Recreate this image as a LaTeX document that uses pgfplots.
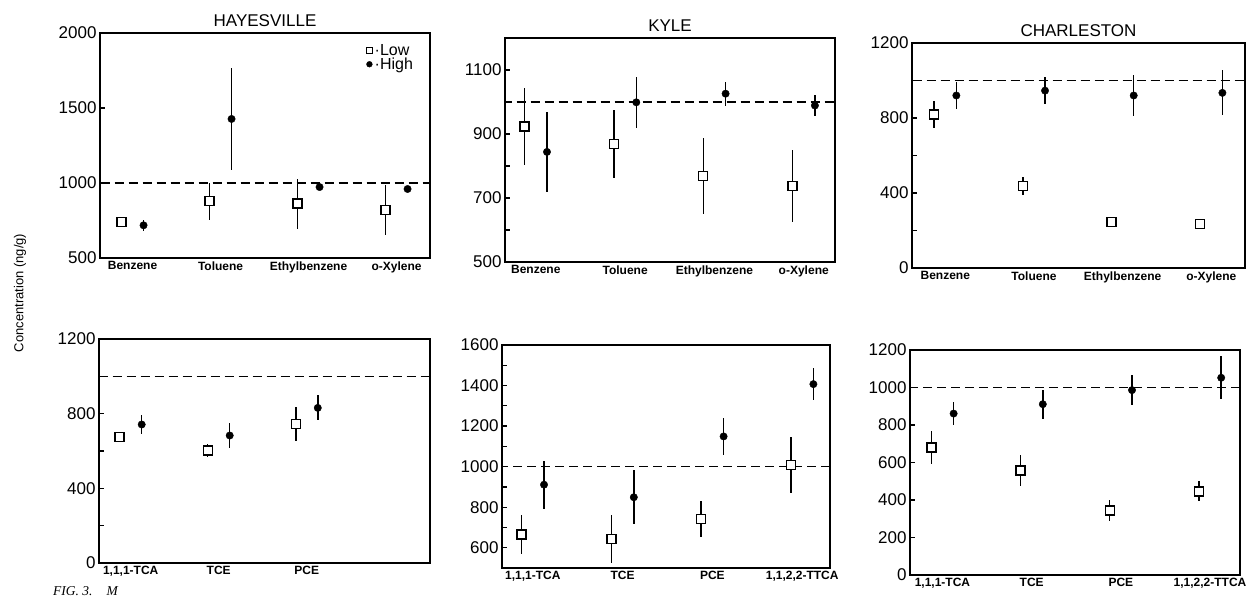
\documentclass[border=0pt]{standalone}
\usepackage{fontspec}
\setmainfont{Liberation Sans}
\newfontfamily\figfont{Liberation Serif}
\usepackage{pgfplots}
\pgfplotsset{compat=1.18}

\pgfplotsset{
  panel/.style={
    scale only axis, anchor=south west,
    axis line style={line width=1.4pt},
    tick align=inside, major tick length=5pt, minor tick length=5pt,
    every tick/.style={line width=1.2pt, black},
    ytick pos=left,
    xtick={0,1,2,3}, x tick style={draw=none},
    x tick label style={font=\fontsize{12}{12}\selectfont\bfseries},
    y tick label style={font=\fontsize{17}{17}\selectfont},
    /pgf/number format/assume math mode=true,
    /pgf/number format/1000 sep={},
    title style={font=\fontsize{17}{17}\selectfont, at={(0.5,1)}, anchor=base, yshift=0pt},
  },
  low/.style={error bars/.cd, y dir=both, y explicit, error mark=none,
    error bar style={line width=1.5pt, black}, /pgfplots/.cd,
    black, only marks, mark=square*, mark size=4.5pt,
    mark options={fill=white, draw=black, line width=1.4pt}},
  high/.style={error bars/.cd, y dir=both, y explicit, error mark=none,
    error bar style={line width=1.5pt, black}, /pgfplots/.cd,
    black, only marks, mark=*, mark size=3.7pt,
    mark options={fill=black, draw=black}},
  ref/.style={black, line width=1.4pt, dash pattern=on 9pt off 5pt, forget plot},
  lowleg/.style={legend image code/.code={\draw[black, mark=square*, mark size=3.3pt,
    mark options={fill=white, draw=black, line width=1.2pt}] plot coordinates {(0.2cm,0cm)};}},
  highleg/.style={legend image code/.code={\draw[black, mark=*, mark size=2.9pt,
    mark options={fill=black, draw=black}] plot coordinates {(0.2cm,0cm)};}},
}

\begin{document}
\begin{tikzpicture}
\useasboundingbox (0,0) rectangle (1249pt,597pt);

% Hayesville, aromatics
\begin{axis}[panel, at={(100pt,339pt)}, width=330pt, height=225pt,
  xmin=-0.37, xmax=3.38, ymin=500, ymax=2000, ytick={500,1000,1500,2000},
  xticklabels={Benzene,Toluene,Ethylbenzene,o-Xylene},
  title={HAYESVILLE},
  legend style={draw=none, fill=none, at={(0.955,0.96)}, anchor=north east,
    font=\fontsize{16}{16}\selectfont, row sep=-3pt, inner sep=0pt},
  legend cell align=left]
\addplot[low, lowleg]
  coordinates {(-0.125,738) +- (0,25) (0.875,878) +- (0,125) (1.875,862) +- (0,167) (2.875,818) +- (0,167)};
\addplot[high, highleg]
  coordinates {(0.125,718) +- (0,38) (1.125,1427) +- (0,340) (2.125,973) +- (0,10) (3.125,960) +- (0,10)};
\addplot[ref] coordinates {(-1,1000) (4,1000)};
\addlegendentry{·Low}
\addlegendentry{·High}
\end{axis}

% Kyle, aromatics
\begin{axis}[panel, at={(505pt,335pt)}, width=330pt, height=224pt,
  xmin=-0.345, xmax=3.35, ymin=500, ymax=1200, ytick={500,700,900,1100}, minor y tick num=1,
  xticklabels={Benzene,Toluene,Ethylbenzene,o-Xylene},
  title={KYLE}]
\addplot[ref] coordinates {(-1,1000) (4,1000)};
\addplot[low] coordinates {(-0.125,924) +- (0,120) (0.875,869) +- (0,105) (1.875,769) +- (0,119) (2.875,738) +- (0,113)};
\addplot[high] coordinates {(0.125,844) +- (0,125) (1.125,999) +- (0,80) (2.125,1026) +- (0,37) (3.125,989) +- (0,32)};
\end{axis}

% Charleston, aromatics
\begin{axis}[panel, at={(912pt,329pt)}, width=333pt, height=225pt,
  xmin=-0.375, xmax=3.38, ymin=0, ymax=1200, ytick={0,400,800,1200}, minor y tick num=1,
  xticklabels={Benzene,Toluene,Ethylbenzene,o-Xylene},
  title={CHARLESTON}]
\addplot[ref] coordinates {(-1,1000) (4,1000)};
\addplot[low] coordinates {(-0.125,818) +- (0,71) (0.875,437) +- (0,49) (1.875,246) +- (0,15) (2.875,234) +- (0,15)};
\addplot[high] coordinates {(0.125,920) +- (0,71) (1.125,946) +- (0,71) (2.125,920) +- (0,107) (3.125,934) +- (0,120)};
\end{axis}

% Hayesville, chlorinated
\begin{axis}[panel, at={(99pt,34pt)}, width=331pt, height=224pt,
  xmin=-0.36, xmax=3.40, ymin=0, ymax=1200, ytick={0,400,800,1200}, minor y tick num=1,
  xtick={0,1,2}, xticklabels={{1,1,1-TCA},TCE,PCE}]
\addplot[ref] coordinates {(-1,1000) (4,1000)};
\addplot[low] coordinates {(-0.125,674) +- (0,20) (0.875,602) +- (0,35) (1.875,746) +- (0,90)};
\addplot[high] coordinates {(0.125,742) +- (0,53) (1.125,683) +- (0,65) (2.125,831) +- (0,67)};
\end{axis}

% Kyle, chlorinated
\begin{axis}[panel, at={(502pt,29pt)}, width=328pt, height=223pt,
  xmin=-0.343, xmax=3.31, ymin=500, ymax=1600, ytick={600,800,...,1600}, minor y tick num=1,
  xticklabels={{1,1,1-TCA},TCE,PCE,{1,1,2,2-TTCA}}]
\addplot[ref] coordinates {(-1,1000) (4,1000)};
\addplot[low] coordinates {(-0.125,665) +- (0,95) (0.875,644) +- (0,117) (1.875,742) +- (0,88) (2.875,1008) +- (0,140)};
\addplot[high] coordinates {(0.125,911) +- (0,118) (1.125,849) +- (0,134) (2.125,1149) +- (0,92) (3.125,1407) +- (0,80)};
\end{axis}

% Charleston, chlorinated
\begin{axis}[panel, at={(910pt,22pt)}, width=330pt, height=225pt,
  xmin=-0.364, xmax=3.336, ymin=0, ymax=1200, ytick={0,200,...,1200},
  xticklabels={{1,1,1-TCA},TCE,PCE,{1,1,2,2-TTCA}}]
\addplot[ref] coordinates {(-1,1000) (4,1000)};
\addplot[low] coordinates {(-0.125,679) +- (0,88) (0.875,557) +- (0,84) (1.875,343) +- (0,55) (2.875,446) +- (0,54)};
\addplot[high] coordinates {(0.125,861) +- (0,62) (1.125,911) +- (0,78) (2.125,986) +- (0,78) (3.125,1052) +- (0,116)};
\end{axis}

\node[rotate=90, font=\fontsize{13}{13}\selectfont] at (20pt,304pt) {Concentration (ng/g)};
\node[anchor=base west, inner sep=0pt, font=\figfont\itshape\fontsize{13.5}{13.5}\selectfont] at (53pt,1.5pt) {FIG. 3.\hspace{14pt}M};
\end{tikzpicture}
\end{document}
